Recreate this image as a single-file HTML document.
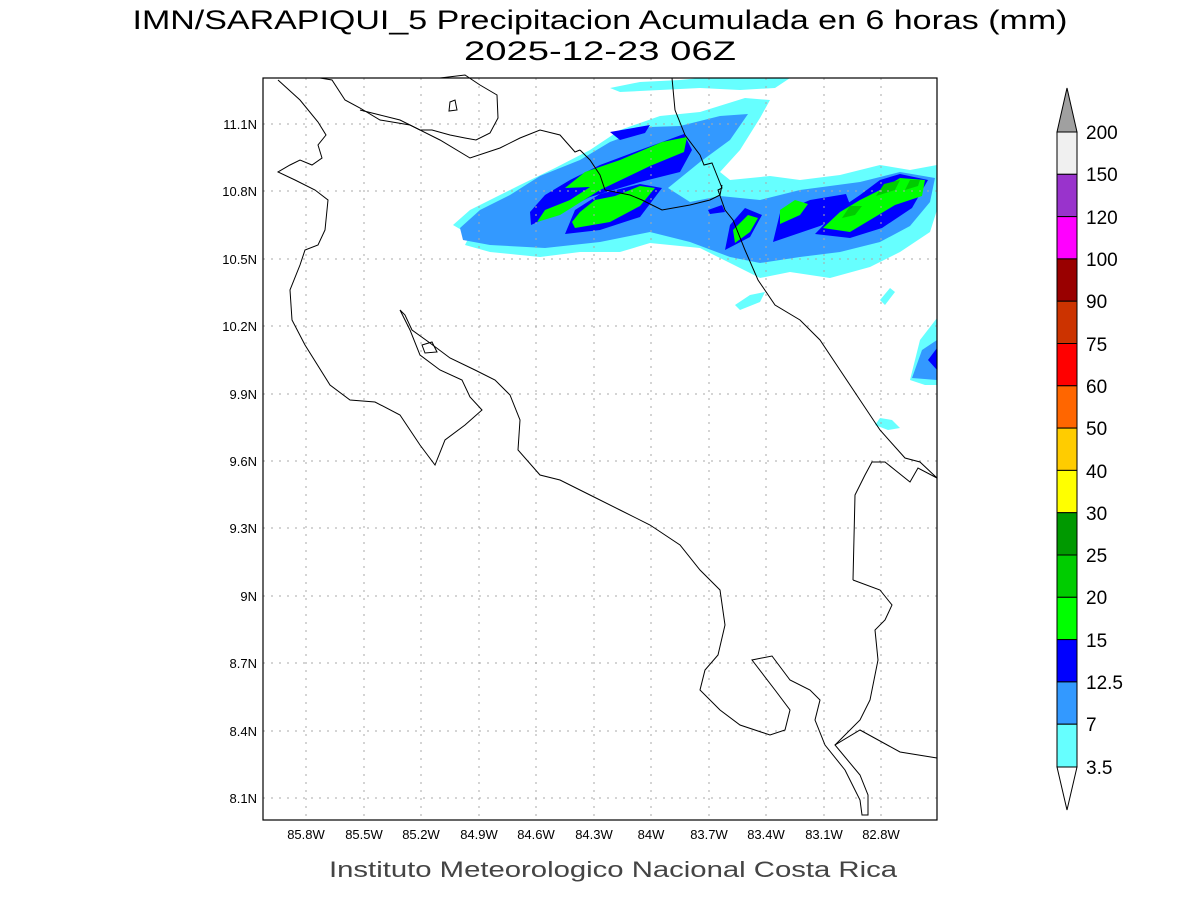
<!DOCTYPE html>
<html><head><meta charset="utf-8"><style>
body{margin:0;background:#fff;}
svg{display:block;font-family:"Liberation Sans",sans-serif;}
</style></head><body>
<svg width="1200" height="900" viewBox="0 0 1200 900" xmlns="http://www.w3.org/2000/svg">
<rect width="1200" height="900" fill="#fff"/>
<text x="600" y="29" font-size="27" text-anchor="middle" fill="#000" textLength="935" lengthAdjust="spacingAndGlyphs">IMN/SARAPIQUI_5 Precipitacion Acumulada en 6 horas (mm)</text>
<text x="600" y="60" font-size="27" text-anchor="middle" fill="#000" textLength="272" lengthAdjust="spacingAndGlyphs">2025-12-23 06Z</text>

<!-- precipitation -->
<g stroke="none">
<path fill="#66ffff" d="M453,225 L470,235 L465,245 L490,252 L540,257 L580,252 L620,252 L650,243 L700,248 L740,268 L760,278 L790,272 L830,278 L870,267 L900,252 L930,232 L937,210 L937,165 L910,170 L880,165 L840,175 L800,180 L770,176 L730,180 L720,172 L740,150 L760,118 L770,100 L745,98 L700,112 L660,116 L620,130 L590,150 L555,168 L520,185 L490,200 L470,210 Z"/>
<path fill="#66ffff" d="M610,88 L640,82 L680,80 L700,78 L790,78 L775,88 L740,90 L700,88 L660,90 L620,92 Z"/>
<path fill="#66ffff" d="M735,305 L750,295 L765,292 L760,302 L740,310 Z M880,300 L890,288 L895,292 L885,305 Z M910,380 L920,340 L937,318 L937,385 L925,385 Z M875,425 L880,418 L892,420 L900,428 L888,430 Z"/>
<path fill="#3399ff" d="M463,240 L490,245 L545,248 L600,242 L650,232 L690,242 L730,257 L760,263 L800,257 L840,252 L880,242 L910,226 L930,202 L935,178 L900,172 L860,182 L800,190 L760,200 L720,196 L690,202 L668,188 L700,162 L730,140 L748,114 L720,116 L680,126 L650,127 L610,142 L580,160 L540,176 L510,195 L480,210 L460,228 Z"/>
<path fill="#3399ff" d="M912,378 L922,350 L937,340 L937,380 Z"/>
<path fill="#0000ff" d="M531,225 L560,212 L590,197 L640,182 L680,172 L692,150 L684,134 L640,150 L600,165 L570,180 L545,195 L530,212 Z"/>
<path fill="#0000ff" d="M565,234 L600,230 L640,217 L662,188 L640,184 L600,194 L575,210 Z"/>
<path fill="#0000ff" d="M725,250 L750,237 L762,215 L745,208 L730,225 Z M773,242 L820,226 L852,210 L846,194 L810,200 L780,213 Z M815,234 L850,238 L882,228 L912,208 L928,180 L900,174 L880,180 L860,195 L838,210 Z M610,132 L650,125 L645,133 L620,140 Z M708,210 L722,205 L725,212 L710,214 Z M928,360 L937,348 L937,370 Z"/>
<path fill="#00ff00" d="M537,222 L560,215 L600,190 L650,166 L684,152 L687,137 L662,142 L620,160 L585,172 L565,188 L590,187 L570,200 L545,210 Z"/>
<path fill="#00ff00" d="M575,228 L610,222 L640,206 L655,188 L640,186 L615,196 L595,200 L580,212 L572,222 Z"/>
<path fill="#00ff00" d="M735,243 L750,232 L758,218 L748,215 L733,230 Z M780,224 L800,215 L808,204 L795,200 L780,210 Z M823,228 L850,232 L870,220 L895,205 L922,196 L925,180 L900,178 L880,190 L860,200 L840,212 Z"/>
<path fill="#00cc00" d="M842,218 L855,215 L862,206 L850,206 Z M876,196 L895,190 L900,180 L884,184 Z M905,190 L918,186 L920,180 L910,180 Z"/>
</g>

<!-- grid -->
<g stroke="#aaa" stroke-width="1" stroke-dasharray="2,6">
<line x1="306" y1="78" x2="306" y2="820"/><line x1="364" y1="78" x2="364" y2="820"/><line x1="421" y1="78" x2="421" y2="820"/><line x1="479" y1="78" x2="479" y2="820"/><line x1="536" y1="78" x2="536" y2="820"/><line x1="594" y1="78" x2="594" y2="820"/><line x1="651" y1="78" x2="651" y2="820"/><line x1="709" y1="78" x2="709" y2="820"/><line x1="766" y1="78" x2="766" y2="820"/><line x1="824" y1="78" x2="824" y2="820"/><line x1="881" y1="78" x2="881" y2="820"/>
<line x1="263" y1="124" x2="937" y2="124"/><line x1="263" y1="191" x2="937" y2="191"/><line x1="263" y1="259" x2="937" y2="259"/><line x1="263" y1="326" x2="937" y2="326"/><line x1="263" y1="394" x2="937" y2="394"/><line x1="263" y1="461" x2="937" y2="461"/><line x1="263" y1="528" x2="937" y2="528"/><line x1="263" y1="596" x2="937" y2="596"/><line x1="263" y1="663" x2="937" y2="663"/><line x1="263" y1="731" x2="937" y2="731"/><line x1="263" y1="798" x2="937" y2="798"/>
</g>

<!-- coastlines -->
<g fill="none" stroke="#000" stroke-width="1">
<path d="M278,80 L300,100 L318,122 L326,135 L318,145 L322,158 L312,165 L300,160 L290,165 L278,172 L295,180 L315,190 L328,200 L325,230 L318,245 L305,250 L300,265 L290,290 L292,320 L305,345 L330,385 L350,400 L375,402 L400,415 L420,445 L435,465 L445,440 L465,425 L482,410 L470,397 L462,380 L440,370 L420,355 L410,330 L400,310 L405,315 L412,330 L430,343 L450,358 L475,370 L495,380 L510,395 L520,420 L518,450 L540,475 L560,480 L590,495 L620,510 L650,525 L680,545 L700,570 L720,590 L725,625 L718,655 L705,670 L700,690 L720,710 L740,725 L770,735 L785,730 L790,710 L775,690 L752,660 L772,656 L790,680 L810,690 L820,700 L815,720 L825,745 L845,770 L860,800 L862,815 L868,815 L868,795 L860,775 L835,745 L860,730 L900,752 L937,758"/>
<path d="M422,345 L432,342 L437,352 L425,353 Z"/>
<path d="M450,102 L455,100 L457,110 L449,111 Z"/>
<path d="M320,78 L332,80 L345,100 L360,108 L380,120 L410,125 L440,140 L470,158 L500,148 L520,138 L540,130 L560,135 L575,152 L580,150"/>
<path d="M440,78 L465,75 L480,85 L497,95 L498,118 L490,133 L476,140 L465,138 L450,135 L432,130 L420,130 L400,120 L380,115 L360,110"/>
<path d="M580,150 L590,160 L600,175 L605,190 L630,195 L642,200 L662,210 L690,205 L710,200 L720,195 L722,185"/>
<path d="M672,78 L675,110 L685,135 L700,155 L704,165 L712,163 L718,178 L722,188 L718,190 L725,210 L733,220 L745,250 L758,280 L775,305 L800,320 L820,340 L840,370 L860,400 L880,430 L905,458 L920,462 L937,478"/>
<path d="M853,580 L855,495 L865,475 L872,462 L885,462 L895,470 L910,482 L918,468 L937,478"/>
<path d="M853,580 L880,590 L892,605 L885,620 L875,630 L878,660 L870,700 L860,720 L835,745"/>
</g>

<!-- frame -->
<rect x="263" y="78" width="674" height="742" fill="none" stroke="#000" stroke-width="1.2"/>

<g font-size="13" fill="#000" text-anchor="end">
<text x="257" y="129">11.1N</text><text x="257" y="196">10.8N</text><text x="257" y="264">10.5N</text><text x="257" y="331">10.2N</text><text x="257" y="399">9.9N</text><text x="257" y="466">9.6N</text><text x="257" y="533">9.3N</text><text x="257" y="601">9N</text><text x="257" y="668">8.7N</text><text x="257" y="736">8.4N</text><text x="257" y="803">8.1N</text>
</g>
<g font-size="13" fill="#000" text-anchor="middle">
<text x="306" y="839">85.8W</text><text x="364" y="839">85.5W</text><text x="421" y="839">85.2W</text><text x="479" y="839">84.9W</text><text x="536" y="839">84.6W</text><text x="594" y="839">84.3W</text><text x="651" y="839">84W</text><text x="709" y="839">83.7W</text><text x="766" y="839">83.4W</text><text x="824" y="839">83.1W</text><text x="881" y="839">82.8W</text>
</g>
<text x="613" y="877" font-size="22" text-anchor="middle" fill="#444" textLength="568" lengthAdjust="spacingAndGlyphs">Instituto Meteorologico Nacional Costa Rica</text>

<!-- colorbar -->
<g stroke="#000" stroke-width="1">
<path d="M1057,132 L1067,88 L1077,132 Z" fill="#a0a0a0"/>
<rect x="1057" y="132" width="20" height="42.3" fill="#f0f0f0"/>
<rect x="1057" y="174.3" width="20" height="42.3" fill="#9933cc"/>
<rect x="1057" y="216.6" width="20" height="42.3" fill="#ff00ff"/>
<rect x="1057" y="258.9" width="20" height="42.3" fill="#990000"/>
<rect x="1057" y="301.2" width="20" height="42.3" fill="#cc3300"/>
<rect x="1057" y="343.5" width="20" height="42.3" fill="#ff0000"/>
<rect x="1057" y="385.8" width="20" height="42.3" fill="#ff6600"/>
<rect x="1057" y="428.1" width="20" height="42.3" fill="#ffcc00"/>
<rect x="1057" y="470.4" width="20" height="42.3" fill="#ffff00"/>
<rect x="1057" y="512.7" width="20" height="42.3" fill="#009900"/>
<rect x="1057" y="555" width="20" height="42.3" fill="#00cc00"/>
<rect x="1057" y="597.3" width="20" height="42.3" fill="#00ff00"/>
<rect x="1057" y="639.6" width="20" height="42.3" fill="#0000ff"/>
<rect x="1057" y="681.9" width="20" height="42.3" fill="#3399ff"/>
<rect x="1057" y="724.2" width="20" height="42.8" fill="#66ffff"/>
<path d="M1057,767 L1067,810 L1077,767 Z" fill="#fff"/>
</g>
<g font-size="19" fill="#000">
<text x="1086" y="139">200</text><text x="1086" y="181">150</text><text x="1086" y="224">120</text><text x="1086" y="266">100</text><text x="1086" y="308">90</text><text x="1086" y="351">75</text><text x="1086" y="393">60</text><text x="1086" y="435">50</text><text x="1086" y="478">40</text><text x="1086" y="520">30</text><text x="1086" y="562">25</text><text x="1086" y="604">20</text><text x="1086" y="647">15</text><text x="1086" y="689">12.5</text><text x="1086" y="731">7</text><text x="1086" y="774">3.5</text>
</g>
</svg>
</body></html>
